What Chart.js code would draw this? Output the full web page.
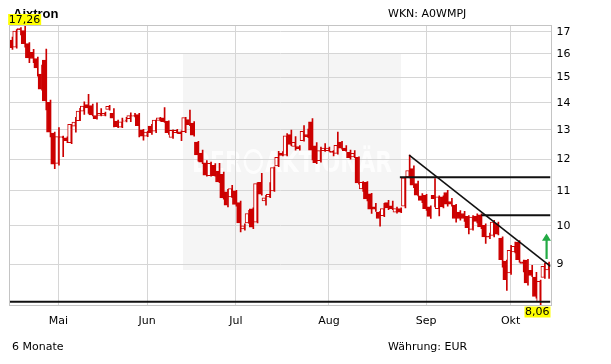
<!DOCTYPE html>
<html><head><meta charset="utf-8">
<script src="https://cdn.jsdelivr.net/npm/chart.js@4"></script>
<style>html,body{margin:0;padding:0;background:#fff}canvas{display:block}</style>
</head><body>
<canvas id="c" width="611" height="364"></canvas>
<script>
// ---- data (daily candles, Aixtron, 6 Monate) ----
const openP  = [16.62,16.30,17.15,17.05,16.46,16.07,15.80,15.14,15.73,14.02,12.88,11.86,12.72,12.72,12.55,13.13,13.33,13.68,13.93,13.89,
                13.52,13.52,13.52,13.75,13.60,13.31,13.09,13.31,13.40,13.49,13.55,13.00,12.78,13.13,12.95,13.34,13.43,13.31,12.73,12.90,
                12.93,12.93,13.37,13.24,12.57,12.20,11.88,11.47,11.80,11.61,11.51,10.97,10.82,11.00,10.65,9.91,10.08,10.47,10.10,11.26,
                10.70,10.82,11.00,11.78,12.20,12.13,12.83,12.42,12.42,12.62,12.83,13.29,12.44,11.95,12.28,12.28,12.26,12.19,12.57,12.37,
                12.22,12.07,12.06,11.06,11.26,10.91,10.53,10.38,10.28,10.65,10.56,10.38,10.48,10.55,11.43,11.69,11.22,10.85,10.87,10.53,
                10.87,10.48,10.82,10.95,10.68,10.58,10.38,10.34,10.26,9.90,10.27,10.30,10.01,9.72,9.74,10.06,9.67,9.08,8.79,9.31,
                9.56,9.06,9.10,8.85,8.69,8.12,8.68,8.86];
const highP  = [16.76,17.10,17.20,17.26,16.50,16.20,15.86,15.52,16.21,14.10,12.92,13.08,12.78,12.75,13.20,13.45,13.79,14.03,14.33,13.95,
                14.00,13.78,13.65,13.90,13.78,13.35,13.42,13.45,13.62,13.60,13.60,13.02,12.95,13.20,13.35,13.45,13.82,13.32,13.00,13.02,
                12.96,13.45,13.72,13.30,12.60,12.30,11.95,11.90,11.85,11.86,11.58,11.05,11.17,11.02,10.70,10.05,10.43,10.50,11.25,11.54,
                10.87,11.25,11.75,12.26,12.25,12.87,12.99,12.76,12.45,13.15,13.03,13.41,12.55,12.40,12.52,12.40,12.28,12.92,12.60,12.45,
                12.30,12.28,12.07,11.28,11.28,10.93,10.63,10.40,10.63,10.72,10.70,10.52,10.50,11.42,12.13,11.78,11.30,10.92,10.90,10.56,
                11.38,10.85,10.85,11.02,10.78,10.60,10.42,10.40,10.28,10.28,10.33,10.33,10.05,9.80,10.15,10.10,9.70,9.10,9.48,9.56,
                9.60,9.10,9.12,8.97,8.80,8.62,9.02,9.05];
const lowP   = [16.20,16.25,16.85,16.30,15.62,15.62,15.06,14.49,13.73,12.75,11.69,11.80,12.08,12.55,12.52,12.92,13.33,13.56,13.60,13.50,
                13.38,13.50,13.50,13.72,13.10,13.08,13.08,13.28,13.29,13.47,12.75,12.64,12.76,12.84,12.90,13.32,13.27,12.84,12.70,12.88,
                12.62,12.90,13.15,12.78,11.93,11.85,11.45,11.45,11.45,11.25,10.75,10.53,10.80,10.55,9.83,9.88,10.06,9.92,10.08,10.87,
                10.58,10.80,10.98,11.75,12.10,12.10,12.45,12.30,12.30,12.60,12.72,11.97,11.85,11.90,12.25,12.25,12.10,12.16,12.33,12.25,
                12.00,12.05,11.20,10.98,10.70,10.34,10.40,9.99,10.25,10.45,10.45,10.35,10.36,10.50,11.40,11.10,10.85,10.65,10.43,10.20,
                10.53,10.27,10.50,10.55,10.55,10.10,10.15,10.12,9.78,9.88,10.08,9.92,9.53,9.65,9.70,9.75,8.93,8.38,8.75,9.28,
                9.05,8.81,8.50,8.70,8.20,8.06,8.66,8.66];
const closeP = [16.28,17.03,17.10,16.46,15.83,15.80,15.40,14.53,14.07,12.92,11.83,12.76,12.76,12.62,13.20,13.28,13.68,13.87,13.80,13.54,
                13.40,13.60,13.60,13.86,13.42,13.11,13.29,13.35,13.52,13.53,13.15,12.78,12.92,12.90,13.35,13.43,13.29,12.90,12.98,12.98,
                12.86,13.44,13.18,12.81,12.14,11.90,11.48,11.86,11.47,11.27,10.79,10.58,11.07,10.60,10.08,10.00,10.34,9.96,11.22,10.90,
                10.79,10.90,11.72,12.06,12.12,12.79,12.49,12.56,12.35,12.95,12.76,12.30,11.88,12.28,12.37,12.37,12.22,12.46,12.36,12.28,
                12.05,12.19,11.24,11.26,10.76,10.46,10.46,10.20,10.48,10.50,10.48,10.48,10.38,11.40,11.63,11.17,10.87,10.72,10.48,10.26,
                10.77,10.82,10.53,10.61,10.61,10.20,10.20,10.20,9.95,10.24,10.12,9.97,9.70,9.69,10.10,9.77,9.11,8.63,9.35,9.45,
                9.11,9.02,8.55,8.73,8.24,8.59,8.95,9.02];
const monthLabels = ['Mai','Jun','Jul','Aug','Sep','Okt'];
const monthStart  = [11, 32, 53, 75, 98, 118];   // index of first trading day of each month
const yTicks = [9, 10, 11, 12, 13, 14, 15, 16, 17];
const yMin = 8.05, yMax = 17.27;
const xMin = -0.47, xMax = 127.45;
// drawn analysis lines (values in price / day-index units)
const supportLevel = 8.12;
const resistance1 = 11.42, resistance1From = 91.8;
const resistance2 = 10.29, resistance2From = 111.1;
const trendFrom = {x: 94, y: 12.13}, trendTo = {x: 127.45, y: 8.95};
const arrowAt = {x: 126.5, from: 9.13, to: 9.79, headBase: 9.60};

const RED = '#cc0000';
const FONT = 'DejaVu Sans';
const idx = openP.map((_, i) => i);
const bodyData = idx.map(i => ({x: i, y: [openP[i], closeP[i]]}));
const wickData = idx.map(i => ({x: i, y: [lowP[i], highP[i]]}));
const bodyFill = idx.map(i => closeP[i] >= openP[i] ? '#ffffff' : RED);
const fmt = v => v.toFixed(2).replace('.', ',');

const decor = {
  id: 'decor',
  beforeDraw(chart) {
    const c = chart.ctx;
    c.save();
    c.fillStyle = '#ffffff';
    c.fillRect(0, 0, chart.width, chart.height);
    c.fillStyle = '#f5f5f5';
    c.fillRect(183, 54, 218, 216);
    c.font = 'bold 28px ' + FONT;
    c.fillStyle = '#fdfdfd';
    c.strokeStyle = '#fdfdfd';
    c.textBaseline = 'alphabetic';
    const w1 = c.measureText('DER').width, w2 = c.measureText('AKTIONÄR').width;
    const d = 22, gap = 4, total = w1 + gap * 2 + d + w2;
    const sx = 200 / total;
    c.translate(192, 172);
    c.scale(sx, 1);
    c.fillText('DER', 0, 0);
    c.lineWidth = 3;
    c.beginPath();
    c.arc(w1 + gap + d / 2, -10.5, d / 2, 0, Math.PI * 2);
    c.stroke();
    c.fillText('AKTIONÄR', w1 + gap * 2 + d, 0);
    c.restore();
  },
  afterDatasetsDraw(chart) {
    const c = chart.ctx, xs = chart.scales.x, ys = chart.scales.y, a = chart.chartArea;
    c.save();
    c.strokeStyle = '#c4c4c4';
    c.lineWidth = 1;
    c.strokeRect(Math.round(a.left) - 0.5, Math.round(a.top) - 0.5, Math.round(a.right - a.left) + 1, Math.round(a.bottom - a.top) + 1);
    const ax = xs.getPixelForValue(arrowAt.x);
    const yTip = ys.getPixelForValue(arrowAt.to), yBase = ys.getPixelForValue(arrowAt.headBase), yEnd = ys.getPixelForValue(arrowAt.from);
    c.fillStyle = '#22aa44';
    c.fillRect(ax - 1, yBase - 1, 2.2, yEnd - yBase + 1);
    c.beginPath();
    c.moveTo(ax, yTip);
    c.lineTo(ax + 4.5, yBase);
    c.lineTo(ax - 4.5, yBase);
    c.closePath();
    c.fill();
    c.restore();
  },
  afterDraw(chart) {
    const c = chart.ctx, xs = chart.scales.x, a = chart.chartArea;
    c.save();
    c.fillStyle = '#000';
    c.textBaseline = 'alphabetic';
    c.font = 'bold 13px "Liberation Sans"';
    c.fillText('Aixtron', 13, 17.5);
    c.font = '11px ' + FONT;
    c.textBaseline = 'middle';
    c.fillText('WKN: A0WMPJ', 388, 14);
    c.fillText('6 Monate', 12, 347);
    c.fillText('Währung: EUR', 388, 347);
    let hi = 0, lo = 0;
    highP.forEach((v, i) => { if (v > highP[hi]) hi = i; });
    lowP.forEach((v, i) => { if (v < lowP[lo]) lo = i; });
    const drawLabel = (i, val, top) => {
      const t = fmt(val);
      const w = Math.ceil(c.measureText(t).width) + 1;
      let x = xs.getPixelForValue(i) - w / 2;
      x = Math.max(8, Math.min(x, a.right - w));
      c.fillStyle = '#ffff00';
      c.fillRect(x, top, w, 11);
      c.fillStyle = '#000';
      c.fillText(t, x + 0.5, top + 6);
    };
    drawLabel(hi, highP[hi], a.top - 12);
    drawLabel(lo, lowP[lo], a.bottom + 1.5);
    c.restore();
  }
};

const lineDs = (pts, w) => ({type: 'line', data: pts, borderColor: '#111111', borderWidth: w,
  pointRadius: 0, fill: false, tension: 0, order: 0, xAxisID: 'x', yAxisID: 'y'});

new Chart(document.getElementById('c'), {
  type: 'bar',
  data: {
    datasets: [
      lineDs([{x: xMin, y: supportLevel}, {x: xMax, y: supportLevel}], 2),
      lineDs([{x: resistance1From, y: resistance1}, {x: xMax, y: resistance1}], 2),
      lineDs([{x: resistance2From, y: resistance2}, {x: xMax, y: resistance2}], 2),
      lineDs([trendFrom, trendTo], 1.6),
      {type: 'bar', data: bodyData, backgroundColor: bodyFill, borderColor: RED, borderWidth: 1,
       borderSkipped: false, barThickness: 3.5, minBarLength: 1, order: 1, xAxisID: 'x', yAxisID: 'y'},
      {type: 'bar', data: wickData, backgroundColor: RED, borderWidth: 0,
       barThickness: 1, order: 2, xAxisID: 'x2', yAxisID: 'y'}
    ]
  },
  options: {
    responsive: false, animation: false, devicePixelRatio: 1,
    layout: {padding: {left: 10, top: 26, right: 0, bottom: 0}},
    plugins: {legend: {display: false}, tooltip: {enabled: false}},
    scales: {
      x: {
        type: 'linear', min: xMin, max: xMax, offset: false,
        afterBuildTicks: s => { s.ticks = monthStart.map(v => ({value: v})); },
        afterFit: s => { s.height = 59; },
        ticks: {callback: v => { const k = monthStart.indexOf(v); return k >= 0 ? monthLabels[k] : ''; },
                font: {family: FONT, size: 11}, color: '#000', padding: 10, maxRotation: 0, autoSkip: false},
        grid: {color: '#d6d6d6', drawTicks: false, offset: false},
        border: {display: false}
      },
      x2: {
        type: 'linear', min: xMin, max: xMax, offset: false, display: false,
        grid: {display: false}
      },
      y: {
        type: 'logarithmic', position: 'right', min: yMin, max: yMax,
        afterBuildTicks: s => { s.ticks = yTicks.map(v => ({value: v})); },
        afterFit: s => { s.width = 60.5; },
        ticks: {callback: v => String(v), font: {family: FONT, size: 11}, color: '#000', padding: 6, autoSkip: false},
        grid: {color: '#d6d6d6', drawTicks: false},
        border: {display: false}
      }
    }
  },
  plugins: [decor]
});
</script>
</body></html>
